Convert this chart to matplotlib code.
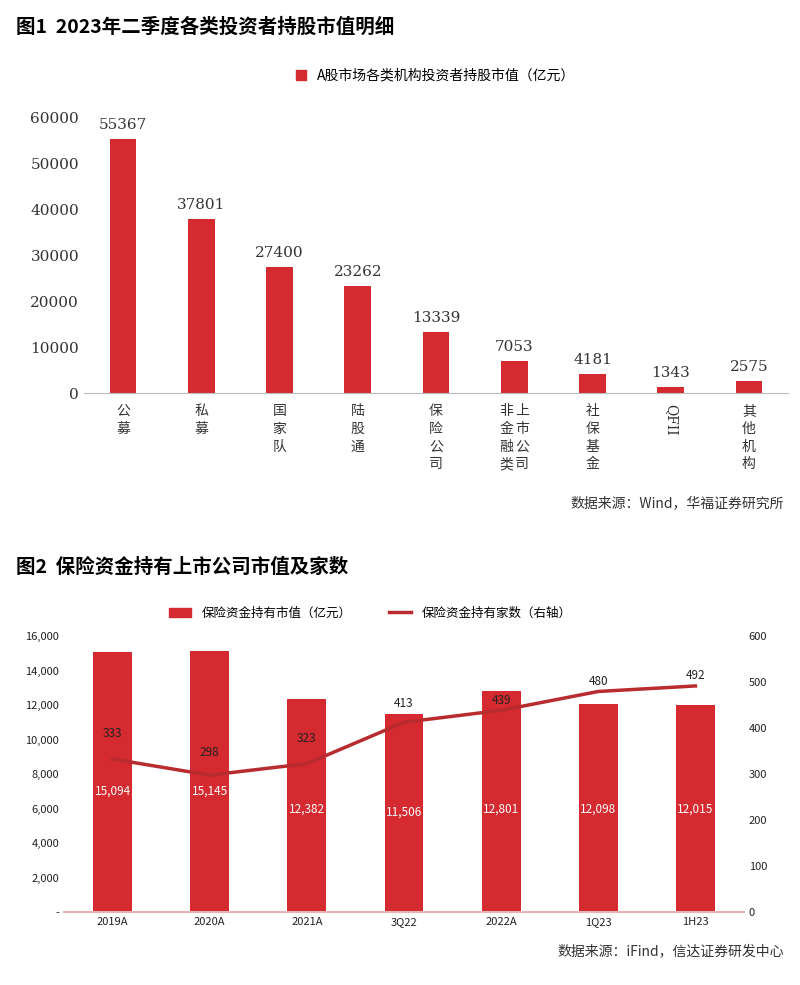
import matplotlib
matplotlib.use("Agg")
import matplotlib.pyplot as plt
from matplotlib.patches import Rectangle
from matplotlib.lines import Line2D
from matplotlib.transforms import blended_transform_factory

plt.rcParams["font.family"] = ["Noto Sans CJK SC", "DejaVu Sans"]

cats1 = ["公募", "私募", "国家队", "陆股通", "保险公司", "非金融类\n上市公司", "社保基金", "QFII", "其他机构"]
vals1 = [55367, 37801, 27400, 23262, 13339, 7053, 4181, 1343, 2575]

cats2 = ["2019A", "2020A", "2021A", "3Q22", "2022A", "1Q23", "1H23"]
mv2 = [15094, 15145, 12382, 11506, 12801, 12098, 12015]
cnt2 = [333, 298, 323, 413, 439, 480, 492]

BAR = "#d42a30"
LINE = "#b82b2e"

fig = plt.figure(figsize=(8, 9.85), dpi=100)
fig.text(0.02, 0.972, "图1  2023年二季度各类投资者持股市值明细", fontsize=14, fontweight="bold", va="center")
fig.text(0.02, 0.424, "图2  保险资金持有上市公司市值及家数", fontsize=14, fontweight="bold", va="center")

ax1 = fig.add_axes([0.105, 0.601, 0.88, 0.28])
x = range(len(cats1))
ax1.bar(x, vals1, width=0.34, color=BAR)
for i, v in enumerate(vals1):
    ax1.text(i, v + 1500, str(v), ha="center", va="bottom", fontsize=11, fontfamily="DejaVu Serif", color="#333")
ax1.set_ylim(0, 60000)
ax1.set_xlim(-0.5, len(cats1) - 0.5)
ax1.set_yticks(range(0, 60001, 10000))
ax1.tick_params(axis="y", length=0, labelsize=11, colors="#333")
ax1.set_yticklabels([str(t) for t in range(0, 60001, 10000)], fontfamily="DejaVu Serif")
ax1.set_xticks(list(x))
ax1.set_xticklabels([])
ax1.tick_params(axis="x", length=0)
tr = blended_transform_factory(ax1.transData, fig.transFigure)
for i, c in enumerate(cats1):
    lines = c.split("\n")
    n = len(lines)
    for j, ln in enumerate(lines):
        dx = (j - (n - 1) / 2) * 0.2
        if ln.isascii():
            ax1.text(i + dx, 0.59, ln, rotation=270, ha="center", va="top", fontsize=10,
                     fontfamily="DejaVu Serif", color="#333", transform=tr)
        else:
            ax1.text(i + dx, 0.59, "\n".join(ln), ha="center", va="top", fontsize=10,
                     linespacing=1.35, color="#333", transform=tr)
for s in ["top", "right", "left"]:
    ax1.spines[s].set_visible(False)
ax1.spines["bottom"].set_color("#bbb")
ax1.legend([Rectangle((0, 0), 1, 1, color=BAR)], ["A股市场各类机构投资者持股市值（亿元）"],
           loc="lower center", bbox_to_anchor=(0.5, 1.08), frameon=False, fontsize=10,
           handlelength=0.7, handleheight=0.7)
fig.text(0.98, 0.485, "数据来源：Wind，华福证券研究所", ha="right", fontsize=10, color="#333")

ax2 = fig.add_axes([0.08, 0.074, 0.85, 0.28])
x2 = range(len(cats2))
ax2.bar(x2, mv2, width=0.4, color=BAR)
for i, v in enumerate(mv2):
    ax2.text(i, 7000 if i < 2 else (6000 if i != 3 else 5800), f"{v:,}", ha="center", va="center",
             fontsize=8.5, color="white")
ax2.set_ylim(0, 16000)
ax2.set_xlim(-0.5, len(cats2) - 0.5)
ax2.set_yticks(range(0, 16001, 2000))
ax2.set_yticklabels(["-"] + [f"{t:,}" for t in range(2000, 16001, 2000)])
ax2.tick_params(axis="both", length=0, labelsize=8, colors="#222")
ax2.set_xticks(list(x2))
ax2.set_xticklabels(cats2)
for s in ["top", "right", "left"]:
    ax2.spines[s].set_visible(False)
ax2.spines["bottom"].set_color("#e8b4b8")
ax2.spines["bottom"].set_linewidth(1.5)

ax3 = ax2.twinx()
ax3.plot(list(x2), cnt2, color=LINE, lw=2.5)
offs = [55, 50, 55, 40, 22, 22, 22]
for i, v in enumerate(cnt2):
    ax3.text(i, v + offs[i], str(v), ha="center", va="center", fontsize=8.5, color="#222")
ax3.set_ylim(0, 600)
ax3.set_yticks(range(0, 601, 100))
ax3.tick_params(axis="y", length=0, labelsize=8, colors="#222")
for s in ["top", "right", "left", "bottom"]:
    ax3.spines[s].set_visible(False)
ax2.legend([Rectangle((0, 0), 1, 1, color=BAR), Line2D([0], [0], color=LINE, lw=2.5)],
           ["保险资金持有市值（亿元）", "保险资金持有家数（右轴）"],
           loc="lower center", bbox_to_anchor=(0.45, 1.02), ncol=2, frameon=False, fontsize=9,
           handlelength=1.8, columnspacing=3)
fig.text(0.98, 0.03, "数据来源：iFind，信达证券研发中心", ha="right", fontsize=10, color="#333")

fig.savefig("out.png", dpi=100, facecolor="white")
